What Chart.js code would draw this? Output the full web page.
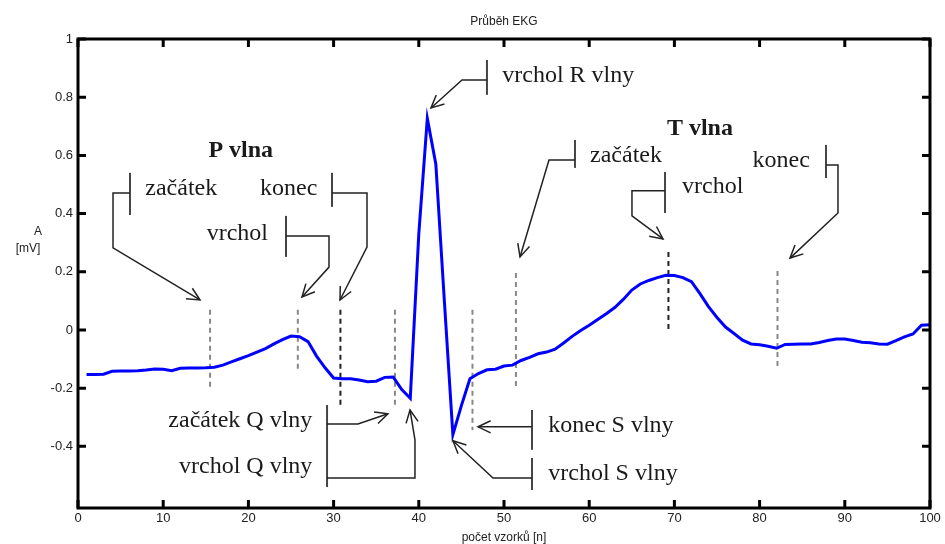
<!DOCTYPE html>
<html>
<head>
<meta charset="utf-8">
<script src="https://cdn.jsdelivr.net/npm/chart.js@4/dist/chart.umd.min.js"></script>
<style>
  html, body { margin: 0; padding: 0; background: #fff; }
</style>
</head>
<body>
<canvas id="ekg" width="945" height="544"></canvas>
<script>
// data
const vzorky = Array.from({ length: 100 }, (_, i) => i + 1);
const napeti = [
  -0.153, -0.153, -0.152, -0.142, -0.141, -0.141, -0.140, -0.138, -0.134, -0.135,
  -0.140, -0.132, -0.131, -0.131, -0.130, -0.128, -0.121, -0.110, -0.099, -0.088,
  -0.076, -0.064, -0.048, -0.033, -0.021, -0.023, -0.040, -0.090, -0.130, -0.165,
  -0.168, -0.168, -0.172, -0.178, -0.176, -0.163, -0.162, -0.205, -0.235, 0.330,
  0.727, 0.570, 0.100, -0.360, -0.260, -0.168, -0.150, -0.137, -0.135, -0.124,
  -0.121, -0.105, -0.094, -0.082, -0.076, -0.066, -0.045, -0.022, -0.002, 0.016,
  0.036, 0.056, 0.077, 0.105, 0.137, 0.158, 0.170, 0.180, 0.188, 0.187,
  0.180, 0.166, 0.125, 0.080, 0.043, 0.010, -0.012, -0.035, -0.048, -0.051,
  -0.056, -0.063, -0.050, -0.049, -0.048, -0.048, -0.043, -0.036, -0.031, -0.031,
  -0.036, -0.042, -0.044, -0.048, -0.049, -0.037, -0.024, -0.014, 0.016, 0.018
];
const yTicks = [-0.4, -0.2, 0, 0.2, 0.4, 0.6, 0.8, 1];
const xTicks = [0, 10, 20, 30, 40, 50, 60, 70, 80, 90, 100];

// svislé čárkované značky (poloha, horní a dolní konec)
const znackyX  = [15.5, 25.8, 30.8, 37.2, 46.3, 51.4, 69.3, 82.1];
const znackyOd = [0.069, 0.069, 0.069, 0.069, 0.069, 0.196, 0.268, 0.203];
const znackyDo = [-0.206, -0.137, -0.265, -0.265, -0.344, -0.206, -0.007, -0.127];
const znackyTmave = [false, false, true, false, false, false, true, false];

// popisky v jednotkách grafu
const popisky = [
  { text: 'P vlna', x: 19.1, y: 0.595, align: 'center', bold: true },
  { text: 'začátek', x: 7.9, y: 0.464, align: 'left' },
  { text: 'konec', x: 28.1, y: 0.464, align: 'right' },
  { text: 'vrchol', x: 22.3, y: 0.309, align: 'right' },
  { text: 'vrchol R vlny', x: 49.8, y: 0.852, align: 'left' },
  { text: 'T vlna', x: 73.0, y: 0.670, align: 'center', bold: true },
  { text: 'začátek', x: 60.1, y: 0.577, align: 'left' },
  { text: 'vrchol', x: 70.9, y: 0.471, align: 'left' },
  { text: 'konec', x: 85.9, y: 0.560, align: 'right' },
  { text: 'začátek Q vlny', x: 27.5, y: -0.333, align: 'right' },
  { text: 'vrchol Q vlny', x: 27.5, y: -0.491, align: 'right' },
  { text: 'konec S vlny', x: 55.2, y: -0.350, align: 'left' },
  { text: 'vrchol S vlny', x: 55.2, y: -0.515, align: 'left' }
];
// krátké svislé zarážky u popisků: [x, y1, y2]
const zarazky = [
  [6.10, 0.540, 0.395], [29.81, 0.540, 0.423], [24.41, 0.392, 0.251],
  [48.0, 0.928, 0.808],
  [58.33, 0.653, 0.557], [68.9, 0.543, 0.402], [87.79, 0.636, 0.522],
  [29.23, -0.258, -0.540],
  [53.29, -0.275, -0.412], [53.29, -0.440, -0.550]
];
// lomené šipky, poslední bod je hrot
const sipky = [
  [[6.10, 0.471], [4.11, 0.471], [4.11, 0.282], [14.32, 0.103]],
  [[29.81, 0.471], [33.92, 0.471], [33.92, 0.285], [30.75, 0.103]],
  [[24.41, 0.323], [29.46, 0.323], [29.46, 0.216], [26.29, 0.113]],
  [[48.0, 0.859], [45.07, 0.859], [41.43, 0.763]],
  [[58.33, 0.584], [55.28, 0.584], [51.88, 0.251]],
  [[68.9, 0.478], [65.02, 0.478], [65.02, 0.392], [68.66, 0.313]],
  [[87.79, 0.567], [89.2, 0.567], [89.2, 0.402], [83.57, 0.247]],
  [[29.23, -0.323], [32.86, -0.323], [36.38, -0.288]],
  [[29.23, -0.509], [39.55, -0.509], [39.55, -0.378], [38.97, -0.275]],
  [[53.29, -0.333], [46.95, -0.333]],
  [[53.29, -0.509], [48.71, -0.509], [44.01, -0.381]]
];

const datasety = [{
  data: vzorky.map((x, i) => ({ x: x, y: napeti[i] })),
  borderColor: '#0000ff',
  borderWidth: 3,
  pointRadius: 0,
  tension: 0
}];
znackyX.forEach((x, i) => {
  datasety.push({
    data: [{ x: x, y: znackyOd[i] }, { x: x, y: znackyDo[i] }],
    borderColor: znackyTmave[i] ? '#222' : '#888',
    borderWidth: 2,
    borderDash: [5, 4],
    pointRadius: 0
  });
});

function sipka(ctx, x1, y1, x2, y2) {
  const a = Math.atan2(y2 - y1, x2 - x1);
  const d = 14, s = 0.45;
  ctx.beginPath();
  ctx.moveTo(x2 - d * Math.cos(a - s), y2 - d * Math.sin(a - s));
  ctx.lineTo(x2, y2);
  ctx.lineTo(x2 - d * Math.cos(a + s), y2 - d * Math.sin(a + s));
  ctx.stroke();
}

const ramecek = {
  id: 'ramecek',
  afterDraw(chart) {
    const ctx = chart.ctx;
    const a = chart.chartArea;
    const sx = chart.scales.x, sy = chart.scales.y;
    ctx.save();

    // rámeček a vnitřní značky os
    ctx.strokeStyle = '#000';
    ctx.lineWidth = 3;
    ctx.strokeRect(a.left, a.top, a.right - a.left, a.bottom - a.top);
    ctx.beginPath();
    xTicks.forEach(v => {
      const p = sx.getPixelForValue(v);
      ctx.moveTo(p, a.bottom); ctx.lineTo(p, a.bottom - 8);
      ctx.moveTo(p, a.top); ctx.lineTo(p, a.top + 8);
    });
    yTicks.forEach(v => {
      const p = sy.getPixelForValue(v);
      ctx.moveTo(a.left, p); ctx.lineTo(a.left + 8, p);
      ctx.moveTo(a.right, p); ctx.lineTo(a.right - 8, p);
    });
    ctx.stroke();

    // nadpis a popisy os
    ctx.fillStyle = '#222';
    ctx.font = '12px "Liberation Sans", Arial, sans-serif';
    ctx.textAlign = 'center';
    ctx.textBaseline = 'alphabetic';
    ctx.fillText('Průběh EKG', (a.left + a.right) / 2, 25);
    ctx.fillText('počet vzorků [n]', (a.left + a.right) / 2, 541);
    ctx.fillText('A', 38, 235);
    ctx.fillText('[mV]', 28, 252);

    // zarážky
    ctx.strokeStyle = '#444';
    ctx.lineWidth = 2;
    zarazky.forEach(z => {
      const x = sx.getPixelForValue(z[0]);
      ctx.beginPath();
      ctx.moveTo(x, sy.getPixelForValue(z[1]));
      ctx.lineTo(x, sy.getPixelForValue(z[2]));
      ctx.stroke();
    });

    // šipky
    ctx.strokeStyle = '#222';
    ctx.lineWidth = 1.5;
    sipky.forEach(s => {
      const body = s.map(b => [sx.getPixelForValue(b[0]), sy.getPixelForValue(b[1])]);
      ctx.beginPath();
      body.forEach((b, i) => i ? ctx.lineTo(b[0], b[1]) : ctx.moveTo(b[0], b[1]));
      ctx.stroke();
      const n = body.length;
      sipka(ctx, body[n - 2][0], body[n - 2][1], body[n - 1][0], body[n - 1][1]);
    });

    // texty
    ctx.fillStyle = '#1a1a1a';
    popisky.forEach(p => {
      ctx.font = (p.bold ? 'bold ' : '') + '24px "Liberation Serif", "Times New Roman", serif';
      ctx.textAlign = p.align;
      ctx.fillText(p.text, sx.getPixelForValue(p.x), sy.getPixelForValue(p.y));
    });
    ctx.restore();
  }
};

new Chart(document.getElementById('ekg').getContext('2d'), {
  type: 'line',
  data: { datasets: datasety },
  options: {
    responsive: false,
    animation: false,
    devicePixelRatio: 1,
    layout: { padding: { top: 39, right: 15, bottom: 0, left: 0 } },
    plugins: { legend: { display: false }, tooltip: { enabled: false }, title: { display: false } },
    scales: {
      x: {
        type: 'linear',
        min: 0,
        max: 100,
        afterFit: s => { s.height = 36; },
        afterBuildTicks: s => { s.ticks = xTicks.map(v => ({ value: v })); },
        grid: { display: false, drawTicks: false },
        border: { display: false },
        ticks: { padding: 3, color: '#222', font: { family: '"Liberation Sans", Arial, sans-serif', size: 13 }, maxRotation: 0 }
      },
      y: {
        type: 'linear',
        min: -0.612,
        max: 1,
        afterFit: s => { s.width = 78; },
        afterBuildTicks: s => { s.ticks = yTicks.map(v => ({ value: v })); },
        grid: { display: false, drawTicks: false },
        border: { display: false },
        ticks: {
          padding: 5,
          color: '#222',
          font: { family: '"Liberation Sans", Arial, sans-serif', size: 13 },
          callback: v => String(Math.round(v * 10) / 10)
        }
      }
    }
  },
  plugins: [ramecek]
});
</script>
</body>
</html>
